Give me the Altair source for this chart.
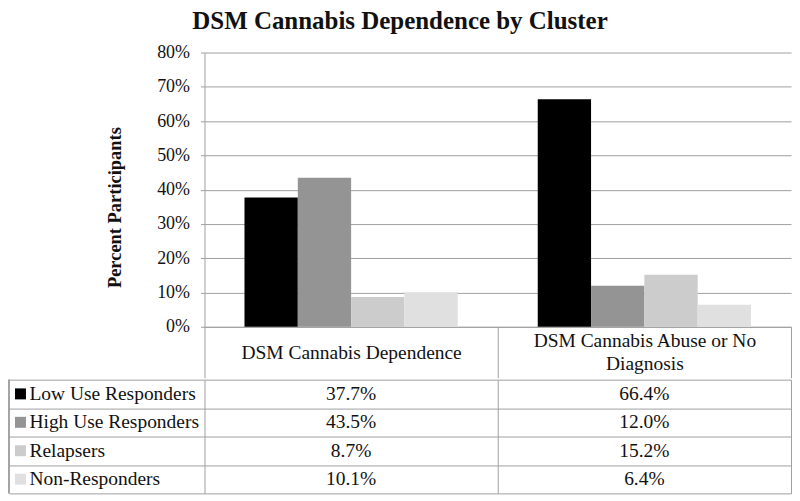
import altair as alt
import pandas as pd

categories = ["DSM Cannabis Dependence", "DSM Cannabis Abuse or No Diagnosis"]
category_lines = [["DSM Cannabis Dependence"], ["DSM Cannabis Abuse or No", "Diagnosis"]]
series = ["Low Use Responders", "High Use Responders", "Relapsers", "Non-Responders"]
dependence = [37.7, 43.5, 8.7, 10.1]
abuse_or_none = [66.4, 12.0, 15.2, 6.4]
colors = ["#000000", "#949494", "#cccccc", "#e0e0e0"]
y_ticks = [0, 0.1, 0.2, 0.3, 0.4, 0.5, 0.6, 0.7, 0.8]

rows = []
for s, a, b in zip(series, dependence, abuse_or_none):
    rows.append({"category": categories[0], "series": s, "value": a / 100})
    rows.append({"category": categories[1], "series": s, "value": b / 100})
df = pd.DataFrame(rows)
sdf = pd.DataFrame({"series": series})

FONT = "Liberation Serif"
GRID = "#a0a0a0"
TXT = "#111111"

x_scale = alt.Scale(domain=categories, paddingInner=0, paddingOuter=0)
color_scale = alt.Scale(domain=series, range=colors)

label_expr = (
    f"datum.value == '{categories[1]}' ? {category_lines[1]!r} : datum.value"
)
two_line_test = f"datum.value == '{categories[1]}'"

bars = alt.Chart(df).mark_bar().encode(
    x=alt.X("category:N", scale=x_scale, sort=categories, axis=alt.Axis(
        title=None, labelAngle=0, tickBand="extent", tickSize=51, tickColor=GRID,
        domainColor=GRID, labelBaseline="middle",
        labelPadding=alt.condition(two_line_test, alt.value(-37.5), alt.value(-25.5)),
        labelFont=FONT, labelFontSize=19.5, labelColor=TXT, labelLimit=0, labelLineHeight=23,
        labelExpr=label_expr)),
    xOffset=alt.XOffset("series:N", sort=series,
                        scale=alt.Scale(paddingInner=0, paddingOuter=0.75)),
    y=alt.Y("value:Q", scale=alt.Scale(domain=[0, 0.8]), axis=alt.Axis(
        format=".0%", values=y_ticks, title="Percent Participants",
        titleFont=FONT, titleFontSize=18.5, titleFontWeight="bold", titleColor=TXT,
        titleY=155, titlePadding=32,
        labelFont=FONT, labelFontSize=18, labelColor=TXT, labelPadding=11,
        tickSize=4, tickColor=GRID, domainColor=GRID, gridColor=GRID)),
    color=alt.Color("series:N", scale=color_scale, legend=None),
).properties(width=588, height=275)

y_tab = alt.Y("series:N", sort=series, scale=alt.Scale(domain=series, paddingInner=0, paddingOuter=0),
              axis=alt.Axis(title=None, labels=False, domain=False, tickBand="extent",
                            tickSize=196, tickColor=GRID, grid=True, gridColor=GRID))

values_text = alt.Chart(df).mark_text(font=FONT, fontSize=19.5, color=TXT).encode(
    x=alt.X("category:N", scale=x_scale, sort=categories, axis=alt.Axis(
        title=None, labels=False, ticks=False, domain=False, grid=True,
        tickBand="extent", gridColor=GRID)),
    y=y_tab,
    text=alt.Text("value:Q", format=".1%"),
)

row_labels = alt.Chart(sdf).mark_text(font=FONT, fontSize=19.5, color=TXT, align="left").encode(
    x=alt.value(-175.5), y=alt.Y("series:N", sort=series), text="series:N")

squares = alt.Chart(sdf).mark_square(size=121, opacity=1).encode(
    x=alt.value(-184.5), y=alt.Y("series:N", sort=series),
    color=alt.Color("series:N", scale=color_scale, legend=None))

left_border = alt.Chart(sdf).mark_rule(color=GRID).encode(
    x=alt.value(-196), y=alt.value(0), y2=alt.value(114))

table = alt.layer(values_text, row_labels, squares, left_border).properties(width=588, height=114)

chart = alt.vconcat(bars, table, spacing=0).properties(
    title=alt.Title("DSM Cannabis Dependence by Cluster", font=FONT, fontSize=25,
                    fontWeight="bold", color=TXT, anchor="middle", offset=10),
    padding={"left": 0, "top": 0, "right": 0, "bottom": 0},
).configure(font=FONT).configure_view(stroke=None).configure_axis(
    labelFont=FONT, titleFont=FONT).configure_text(font=FONT)

chart.save("out.html", embed_options={"renderer": "svg", "actions": False})
